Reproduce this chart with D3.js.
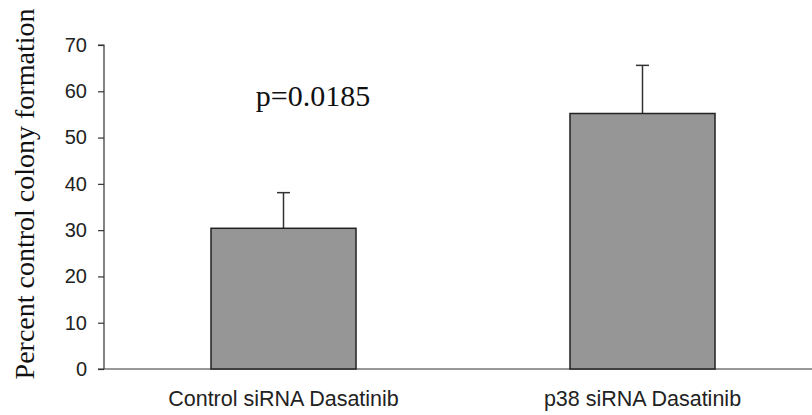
<!DOCTYPE html>
<html><head><meta charset="utf-8">
<script src="https://cdn.jsdelivr.net/npm/d3@7"></script>
<style>body{margin:0;background:#fff}svg{display:block}</style>
</head><body>
<script>
const categories = ["Control siRNA Dasatinib", "p38 siRNA Dasatinib"];
const values = [30.4, 55.2];
const errors = [7.7, 10.4];
const yTicks = [0, 10, 20, 30, 40, 50, 60, 70];
const annotation = "p=0.0185";
const yLabel = "Percent control colony formation";

const W = 812, H = 415;
const svg = d3.select("body").append("svg").attr("width", W).attr("height", H);
const x0 = 104, x1 = 822, yTop = 45, yBot = 369;
const x = d3.scaleBand().domain(categories).range([x0, x1]).padding(0);
const y = d3.scaleLinear().domain([0, 70]).range([yBot, yTop]);
const bw = x.bandwidth() * 0.404;

const yAxis = d3.axisLeft(y).tickValues(yTicks).tickSize(6).tickPadding(11).tickFormat(d3.format("d"));
const gy = svg.append("g").attr("transform", `translate(${x0},0)`).call(yAxis);
gy.select(".domain").attr("stroke", "#333").attr("stroke-width", 1.2).attr("d", `M-6,${yTop}H0V${yBot}`);
gy.selectAll(".tick line").attr("stroke", "#333").attr("stroke-width", 1.2);
gy.selectAll(".tick text").attr("font-family", "Liberation Sans, Arial, sans-serif").attr("font-size", 20).attr("fill", "#222");

// x axis line
svg.append("line").attr("x1", x0 - 6).attr("x2", W).attr("y1", yBot).attr("y2", yBot)
  .attr("stroke", "#333").attr("stroke-width", 1.2);

// error bars
const eg = svg.append("g");
categories.forEach((c, i) => {
  const cx = x(c) + x.bandwidth() / 2;
  eg.append("line").attr("x1", cx).attr("x2", cx).attr("y1", y(values[i])).attr("y2", y(values[i] + errors[i]))
    .attr("stroke", "#333").attr("stroke-width", 1.5);
  eg.append("line").attr("x1", cx - 6.5).attr("x2", cx + 6.5).attr("y1", y(values[i] + errors[i])).attr("y2", y(values[i] + errors[i]))
    .attr("stroke", "#333").attr("stroke-width", 1.5);
});

// bars
svg.append("g").selectAll("rect").data(categories).join("rect")
  .attr("x", d => x(d) + x.bandwidth() / 2 - bw / 2)
  .attr("width", bw)
  .attr("y", (d, i) => y(values[i]))
  .attr("height", (d, i) => yBot - y(values[i]))
  .attr("fill", "#969696").attr("stroke", "#222").attr("stroke-width", 1.5);

// category labels
svg.append("g").selectAll("text").data(categories).join("text")
  .attr("x", d => x(d) + x.bandwidth() / 2)
  .attr("y", 406)
  .attr("text-anchor", "middle")
  .attr("font-family", "Liberation Sans, Arial, sans-serif").attr("font-size", 21.5).attr("fill", "#222")
  .text(d => d);

// annotation
svg.append("text").attr("x", 313).attr("y", 106).attr("text-anchor", "middle")
  .attr("font-family", "Liberation Serif, Times New Roman, serif").attr("font-size", 30).attr("fill", "#111")
  .text(annotation);

// y label
svg.append("text").attr("transform", "translate(34,194) rotate(-90)").attr("text-anchor", "middle")
  .attr("font-family", "Liberation Serif, Times New Roman, serif").attr("font-size", 28).attr("fill", "#111")
  .text(yLabel);
</script>
</body></html>
